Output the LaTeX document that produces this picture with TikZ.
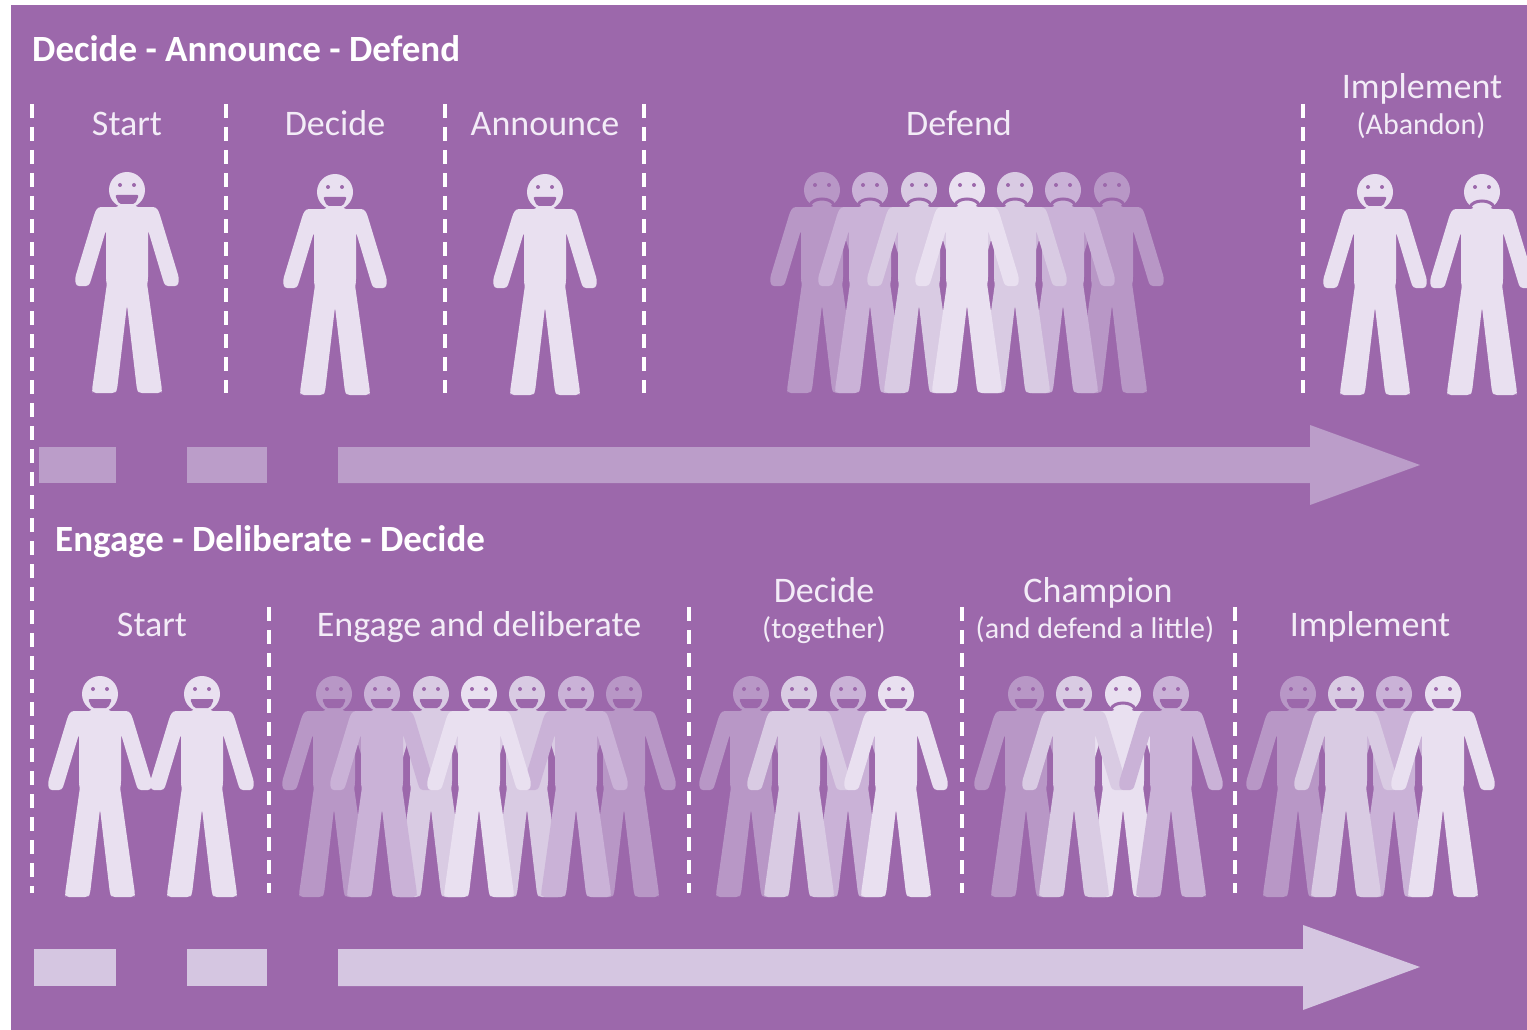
\documentclass[tikz,border=0pt]{standalone}
\usepackage{fontspec}
\setmainfont{Carlito}
\usetikzlibrary{positioning}

\definecolor{panel}{HTML}{9C68AB}
\definecolor{toneA}{HTML}{E9E0F0}
\definecolor{toneB}{HTML}{D9CBE3}
\definecolor{toneC}{HTML}{CAB2D7}
\definecolor{toneD}{HTML}{B897C6}
\definecolor{bandtop}{HTML}{BB9DC9}
\definecolor{bandlow}{HTML}{D5C6E1}
\definecolor{inktext}{HTML}{F3ECF7}

\newcommand{\figurebody}{
  \path[pic actions, rounded corners=3pt] (-8,10) -- (-8,17) -- (-29,17) -- (-32,22) -- (-52,88) -- (-51,96) -- (-38,96) -- (-36,90)
    -- (-21,40) -- (-21,90) -- (-20,93) -- (-35,200) -- (-34,203) -- (-12,203) -- (-10,200) -- (0,115)
    -- (10,200) -- (12,203) -- (34,203) -- (35,200) -- (20,93) -- (21,90) -- (21,40)
    -- (36,90) -- (38,96) -- (51,96) -- (52,88) -- (32,22) -- (29,17) -- (8,17) -- (8,10) -- cycle;
  \path[pic actions] (0,0) circle (18);
  \fill[panel] (-7,-5) circle (2) (7,-5) circle (2);
}

\tikzset{
  happy/.pic={
    \figurebody
    \fill[panel, rounded corners=2pt] (-12,5) -- (12,5) -- (8,14) -- (-8,14) -- cycle;
  },
  sad/.pic={
    \figurebody
    \draw[panel, line width=3pt] (-12,15) .. controls (-9,7) and (9,7) .. (12,15);
  },
  divider/.style={white, line width=3.2pt, dash pattern=on 14pt off 9pt},
  heading/.style={anchor=base west, inner sep=0pt, white, font=\fontsize{37}{37}\selectfont\bfseries},
  stage/.style={anchor=base, inner sep=0pt, inktext, font=\fontsize{36}{36}\selectfont},
  substage/.style={anchor=base, inner sep=0pt, inktext, font=\fontsize{30}{30}\selectfont}
}

\begin{document}
\begin{tikzpicture}[x=1pt,y=-1pt]
\clip (0,0) rectangle (1527,1030);
\fill[white] (0,0) rectangle (1527,1030);
\fill[panel] (11,5) rectangle (1527,1030);

% Upper process
\node[heading] (adtitle) at (32,62) {Decide - Announce - Defend};
\node[stage] (adstart) at (127,136) {Start};
\node[stage] (addecide) at (335,136) {Decide};
\node[stage] (adannounce) at (545,136) {Announce};
\node[stage] (addefend) at (959,136) {Defend};
\node[stage] (adimplement) at (1422,99) {Implement};
\node[substage] (adabandon) at (1421,135) {(Abandon)};

\draw[divider] (32,104) -- (32,893);
\foreach \x in {226,445,644,1303}
  \draw[divider] (\x,104) -- (\x,393);

\pic[fill=toneA] at (127,190) {happy};
\pic[fill=toneA] at (335,192) {happy};
\pic[fill=toneA] at (545,192) {happy};

\foreach \x/\tone in {822/toneD,1112/toneD,870/toneC,1063/toneC,919/toneB,1015/toneB,967/toneA}
  \pic[fill=\tone] at (\x,190) {sad};

\pic[fill=toneA] at (1375,192) {happy};
\pic[fill=toneA] at (1482,192) {sad};

\fill[bandtop] (39,447) rectangle (116,483);
\fill[bandtop] (187,447) rectangle (267,483);
\fill[bandtop] (338,447) -- (1310,447) -- (1310,425) -- (1420,465) -- (1310,505) -- (1310,483) -- (338,483) -- cycle;

% Lower process
\node[heading] (edtitle) at (55,551) {Engage - Deliberate - Decide};
\node[stage] (edstart) at (152,636) {Start};
\node[stage] (edengage) at (479,636) {Engage and deliberate};
\node[stage] (eddecide) at (824,602) {Decide};
\node[substage] (edtogether) at (824,638) {(together)};
\node[stage] (edchampion) at (1098,602) {Champion};
\node[substage] (eddefend) at (1095,638) {(and defend a little)};
\node[stage] (edimplement) at (1370,636) {Implement};

\foreach \x in {269,689,962,1235}
  \draw[divider] (\x,607) -- (\x,893);

\foreach \x in {100,202}
  \pic[fill=toneA] at (\x,694) {happy};

\foreach \x/\tone in {334/toneD,624/toneD,431/toneB,527/toneB,382/toneC,576/toneC,479/toneA}
  \pic[fill=\tone] at (\x,694) {happy};

\foreach \x/\tone in {751/toneD,848/toneC,799/toneB,896/toneA}
  \pic[fill=\tone] at (\x,694) {happy};

\pic[fill=toneD] at (1026,694) {happy};
\pic[fill=toneA] at (1123,694) {sad};
\pic[fill=toneB] at (1074,694) {happy};
\pic[fill=toneC] at (1171,694) {happy};

\foreach \x/\tone in {1298/toneD,1394/toneC,1346/toneB,1443/toneA}
  \pic[fill=\tone] at (\x,694) {happy};

\fill[bandlow] (34,949) rectangle (116,986);
\fill[bandlow] (187,949) rectangle (267,986);
\fill[bandlow] (338,949) -- (1303,949) -- (1303,925) -- (1420,967) -- (1303,1010) -- (1303,986) -- (338,986) -- cycle;
\end{tikzpicture}
\end{document}
